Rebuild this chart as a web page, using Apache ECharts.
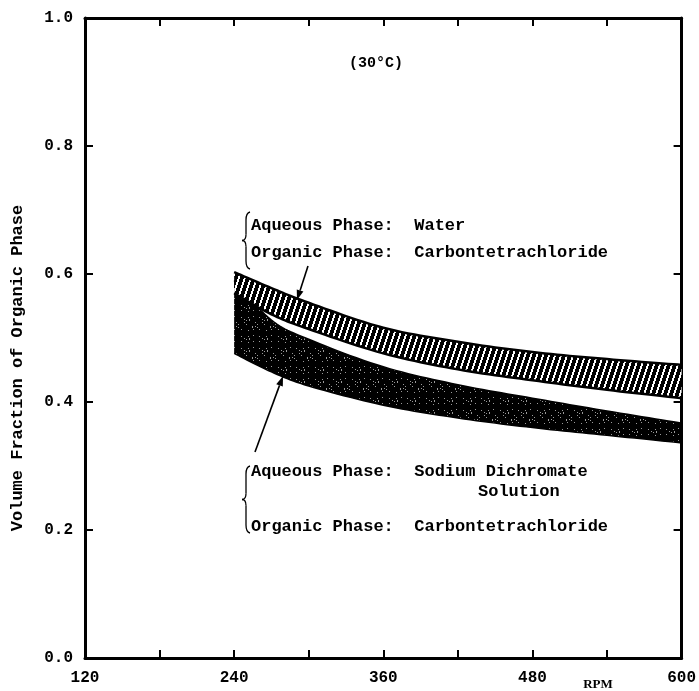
<!DOCTYPE html>
<html>
<head>
<meta charset="utf-8">
<script src="https://cdn.jsdelivr.net/npm/echarts@6/dist/echarts.min.js"></script>
<style>html,body{margin:0;padding:0;background:#fff}#c{width:699px;height:691px}</style>
</head>
<body>
<div id="c"></div>
<script>
// ---- data ----
var rpm = [240, 270, 300, 360, 420, 480, 540, 600];
// Water / CCl4 band (hatched)
var waterTop    = [0.603, 0.578, 0.555, 0.516, 0.494, 0.478, 0.467, 0.458];
var waterBottom = [0.570, 0.537, 0.514, 0.476, 0.451, 0.434, 0.419, 0.406];
// Sodium dichromate / CCl4 band (black)
var dichTop     = [0.590, 0.528, 0.498, 0.455, 0.427, 0.406, 0.386, 0.367];
var dichBottom  = [0.476, 0.447, 0.425, 0.395, 0.375, 0.360, 0.348, 0.336];
var xTicks = [120, 240, 360, 480, 600];
var yTicks = [0.0, 0.2, 0.4, 0.6, 0.8, 1.0];

// textures
function hatchPattern() {
  var w = 6, h = 18;
  var c = document.createElement('canvas'); c.width = w; c.height = h;
  var g = c.getContext('2d'); g.fillStyle = '#000'; g.fillRect(0, 0, w, h);
  g.fillStyle = '#fff';
  for (var y = 0; y < h; y++) for (var x = 0; x < w; x++) {
    if (((x + Math.floor(y / 3)) % w) < 2) g.fillRect(x, y, 1, 1);
  }
  return c;
}
function stipplePattern() {
  var w = 37, h = 31;
  var c = document.createElement('canvas'); c.width = w; c.height = h;
  var g = c.getContext('2d'); g.fillStyle = '#000'; g.fillRect(0, 0, w, h);
  g.fillStyle = '#9a9a9a';
  for (var y = 0; y < h; y++) for (var x = 0; x < w; x++) {
    if (((x * x * 7 + y * y * 3 + x * y * 5 + x * 11 + y * 17) % 19) === 0) g.fillRect(x, y, 1, 1);
  }
  return c;
}

// Catmull-Rom smoothing in pixel space (rendering only)
function spline(P) {
  var out = [];
  for (var i = 0; i < P.length - 1; i++) {
    var p0 = P[Math.max(i - 1, 0)], p1 = P[i], p2 = P[i + 1], p3 = P[Math.min(i + 2, P.length - 1)];
    for (var k = 0; k < 12; k++) {
      var t = k / 12, t2 = t * t, t3 = t2 * t;
      out.push([
        0.5 * (2 * p1[0] + (-p0[0] + p2[0]) * t + (2 * p0[0] - 5 * p1[0] + 4 * p2[0] - p3[0]) * t2 + (-p0[0] + 3 * p1[0] - 3 * p2[0] + p3[0]) * t3),
        0.5 * (2 * p1[1] + (-p0[1] + p2[1]) * t + (2 * p0[1] - 5 * p1[1] + 4 * p2[1] - p3[1]) * t2 + (-p0[1] + 3 * p1[1] - 3 * p2[1] + p3[1]) * t3)
      ]);
    }
  }
  out.push(P[P.length - 1].slice());
  return out;
}

var mono = '"Liberation Mono", "DejaVu Sans Mono", monospace';
var chart = echarts.init(document.getElementById('c'), null, { renderer: 'canvas' });

function axisCommon() {
  return {
    axisLine: { show: true, onZero: false, lineStyle: { color: '#000', width: 3 } },
    axisTick: { show: true, inside: true, length: 8, lineStyle: { color: '#000', width: 2 } },
    splitLine: { show: false }
  };
}

function arrow(x1, y1, x2, y2) {
  var dx = x2 - x1, dy = y2 - y1, L = Math.sqrt(dx * dx + dy * dy);
  var ux = dx / L, uy = dy / L, px = -uy, py = ux, hl = 10, hw = 3.5;
  var bx = x2 - hl * ux, by = y2 - hl * uy;
  return [
    { type: 'line', shape: { x1: x1, y1: y1, x2: bx, y2: by }, style: { stroke: '#000', lineWidth: 1.6 } },
    { type: 'polygon', shape: { points: [[x2, y2], [bx + hw * px, by + hw * py], [bx - hw * px, by - hw * py]] }, style: { fill: '#000' } }
  ];
}

function brace(x, top, bot) {
  var mid = (top + bot) / 2, st = { stroke: '#000', fill: null, lineWidth: 1.3 };
  var segs = [
    { x1: x + 4, y1: top, cpx1: x, cpy1: top + 1, x2: x, y2: top + 8 },
    { x1: x, y1: top + 8, cpx1: x, cpy1: mid - 8, x2: x, y2: mid - 6 },
    { x1: x, y1: mid - 6, cpx1: x, cpy1: mid, x2: x - 4, y2: mid },
    { x1: x - 4, y1: mid, cpx1: x, cpy1: mid, x2: x, y2: mid + 6 },
    { x1: x, y1: mid + 6, cpx1: x, cpy1: bot - 8, x2: x, y2: bot - 8 },
    { x1: x, y1: bot - 8, cpx1: x, cpy1: bot - 1, x2: x + 4, y2: bot }
  ];
  return segs.map(function (s) { return { type: 'bezierCurve', shape: s, style: st }; });
}

function txt(s, x, y, opt) {
  opt = opt || {};
  return {
    type: 'text', x: x, y: y, rotation: opt.rotation || 0,
    style: {
      text: s, fill: '#000', fontFamily: opt.family || mono, fontSize: opt.size || 17,
      fontWeight: opt.weight || 'bold', align: opt.align || 'left', verticalAlign: 'middle'
    }
  };
}

var hatch = { image: hatchPattern(), repeat: 'repeat' };
var stip = { image: stipplePattern(), repeat: 'repeat' };

function bandSeries(name, top, bottom, fill, lw) {
  return {
    name: name, type: 'custom', silent: true, clip: true,
    data: rpm.map(function (x, i) { return [x, top[i], bottom[i]]; }),
    encode: { x: 0, y: [1, 2] },
    renderItem: function (params, api) {
      if (params.dataIndex !== 0) return null;
      var T = rpm.map(function (x, i) { return api.coord([x, top[i]]); });
      var B = rpm.map(function (x, i) { return api.coord([x, bottom[i]]); });
      var Ts = spline(T), Bs = spline(B);
      var poly = Ts.concat(Bs.slice().reverse());
      return {
        type: 'group', children: [
          { type: 'polygon', shape: { points: poly }, style: { fill: fill, stroke: null } },
          { type: 'polyline', shape: { points: Ts }, style: { stroke: '#000', lineWidth: lw, fill: null } },
          { type: 'polyline', shape: { points: Bs }, style: { stroke: '#000', lineWidth: lw, fill: null } }
        ]
      };
    }
  };
}

var graphics = [
  txt('(30°C)', 376, 63, { size: 15, align: 'center' }),
  txt('Aqueous Phase:  Water', 251, 226),
  txt('Organic Phase:  Carbontetrachloride', 251, 253),
  txt('Aqueous Phase:  Sodium Dichromate', 251, 472),
  txt('Solution', 478, 492),
  txt('Organic Phase:  Carbontetrachloride', 251, 527),
  txt('Volume Fraction of Organic Phase', 18, 368, { rotation: Math.PI / 2, align: 'center', size: 17 }),
  txt('RPM', 598, 685, { family: '"Liberation Serif", serif', size: 13, align: 'center' })
].concat(brace(246, 212, 269)).concat(brace(246, 466, 533))
 .concat(arrow(308, 266, 297, 300)).concat(arrow(255, 452, 283, 376));

var option = {
  animation: false,
  backgroundColor: '#fff',
  grid: { left: 85, right: 17, top: 18, bottom: 33 },
  xAxis: [
    Object.assign({
      type: 'value', position: 'bottom', min: 120, max: 600, interval: 60,
      axisLabel: {
        color: '#000', fontFamily: mono, fontWeight: 'bold', fontSize: 16, margin: 12,
        formatter: function (v) { return xTicks.indexOf(v) >= 0 ? String(v) : ''; }
      }
    }, axisCommon()),
    Object.assign({
      type: 'value', position: 'top', min: 120, max: 600, interval: 60,
      axisLabel: { show: false }
    }, axisCommon())
  ],
  yAxis: [
    Object.assign({
      type: 'value', position: 'left', min: 0, max: 1, interval: 0.2,
      axisLabel: {
        color: '#000', fontFamily: mono, fontWeight: 'bold', fontSize: 16, margin: 12,
        formatter: function (v) {
          for (var i = 0; i < yTicks.length; i++) if (Math.abs(yTicks[i] - v) < 1e-6) return yTicks[i].toFixed(1);
          return '';
        }
      }
    }, axisCommon()),
    Object.assign({
      type: 'value', position: 'right', min: 0, max: 1, interval: 0.2,
      axisLabel: { show: false }
    }, axisCommon())
  ],
  series: [
    bandSeries('Aqueous: Sodium Dichromate Solution / Organic: Carbontetrachloride', dichTop, dichBottom, stip, 1.5),
    bandSeries('Aqueous: Water / Organic: Carbontetrachloride', waterTop, waterBottom, hatch, 2.5)
  ],
  graphic: graphics
};
chart.setOption(option);
</script>
</body>
</html>
